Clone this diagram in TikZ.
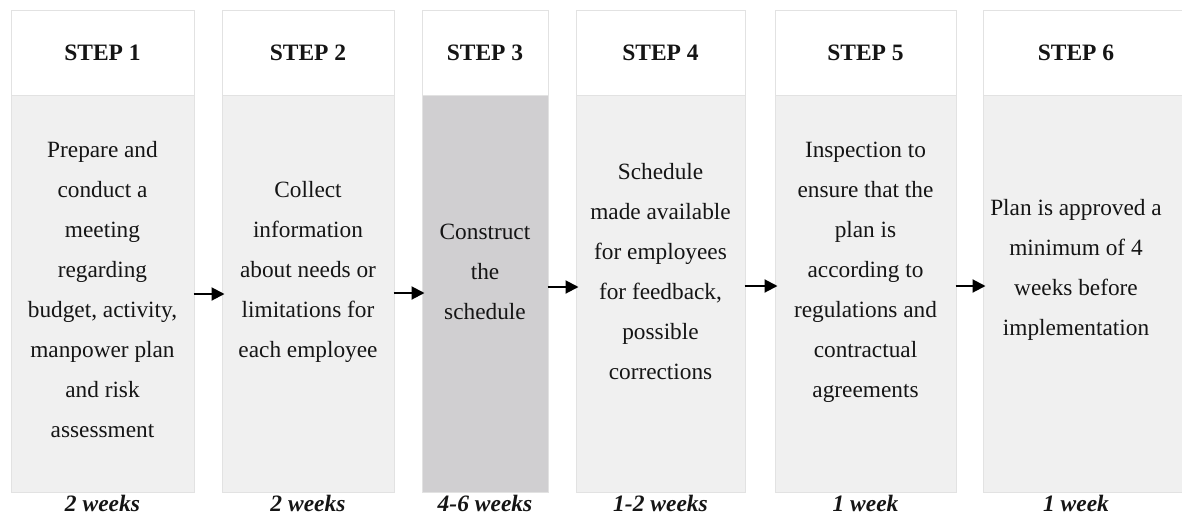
\documentclass[tikz,border=0pt]{standalone}
\usepackage{fontspec}
\setmainfont{Liberation Serif}
\usetikzlibrary{arrows.meta}
\definecolor{boxedge}{HTML}{E2E2E2}
\definecolor{bodygray}{HTML}{F0F0F0}
\definecolor{focusgray}{HTML}{D0CFD1}
\definecolor{ink}{HTML}{151515}
\begin{document}
\begin{tikzpicture}[x=1pt,y=-1pt,
  headbox/.style={draw=boxedge, fill=white, line width=1pt, inner sep=0pt,
    minimum height=85pt, text=ink, font=\fontsize{23.5}{28}\selectfont\bfseries},
  bodybox/.style={draw=boxedge, fill=bodygray, line width=1pt, inner sep=0pt,
    minimum height=397pt},
  bodytext/.style={align=center, inner sep=0pt, text=ink,
    font=\fontsize{23.3}{40}\selectfont},
  durlabel/.style={inner sep=0pt, text=ink,
    font=\fontsize{23.5}{28}\selectfont\bfseries\itshape},
  flow/.style={-{Triangle[length=13pt,width=13pt]}, line width=2pt, black,
    shorten <=-1pt, shorten >=-3pt}]
\useasboundingbox (0,0) rectangle (1182,515);
\clip (0,0) rectangle (1182,515);

% column headers
\node[headbox, minimum width=183pt] (h1) at (102.5,52.5) {STEP 1};
\node[headbox, minimum width=172pt] (h2) at (308,52.5) {STEP 2};
\node[headbox, minimum width=126pt] (h3) at (485,52.5) {STEP 3};
\node[headbox, minimum width=169pt] (h4) at (660.5,52.5) {STEP 4};
\node[headbox, minimum width=181pt] (h5) at (865.5,52.5) {STEP 5};
\node[headbox, minimum width=207pt] (h6) at (1086.5,52.5) {};
\node[text=ink, font=\fontsize{23.5}{28}\selectfont\bfseries] (h6t) at (1076,52.5) {STEP 6};

% column bodies
\node[bodybox, minimum width=183pt] (b1) at (102.5,293.5) {};
\node[bodybox, minimum width=172pt] (b2) at (308,293.5) {};
\node[bodybox, minimum width=126pt, fill=focusgray] (b3) at (485,293.5) {};
\node[bodybox, minimum width=169pt] (b4) at (660.5,293.5) {};
\node[bodybox, minimum width=181pt] (b5) at (865.5,293.5) {};
\node[bodybox, minimum width=207pt] (b6) at (1086.5,293.5) {};

% body texts
\node[bodytext] (t1) at ([yshift=3.5pt]b1.center)
  {Prepare and\\conduct a\\meeting\\regarding\\budget, activity,\\manpower plan\\and risk\\assessment};
\node[bodytext] (t2) at ([yshift=21.5pt]b2.center)
  {Collect\\information\\about needs or\\limitations for\\each employee};
\node[bodytext] (t3) at ([yshift=21.5pt]b3.center)
  {Construct\\the\\schedule};
\node[bodytext] (t4) at ([yshift=21.5pt]b4.center)
  {Schedule\\made available\\for employees\\for feedback,\\possible\\corrections};
\node[bodytext] (t5) at ([yshift=21.5pt]b5.center)
  {Inspection to\\ensure that the\\plan is\\according to\\regulations and\\contractual\\agreements};
\node[bodytext] (t6) at (1076,270)
  {Plan is approved a\\minimum of 4\\weeks before\\implementation};

% durations
\node[durlabel] (d1) at (102.5,503) {2 weeks};
\node[durlabel] (d2) at (308,503) {2 weeks};
\node[durlabel] (d3) at (485,503) {4-6 weeks};
\node[durlabel] (d4) at (660.5,503) {1-2 weeks};
\node[durlabel] (d5) at (865.5,503) {1 week};
\node[durlabel] (d6) at (1076,503) {1 week};

% flow arrows
\draw[flow] ([yshift=-0.5pt]b1.east) -- ([yshift=-0.5pt]b2.west);
\draw[flow] ([yshift=0.5pt]b2.east) -- ([yshift=0.5pt]b3.west);
\draw[flow] ([yshift=6.5pt]b3.east) -- ([yshift=6.5pt]b4.west);
\draw[flow] ([yshift=7.5pt]b4.east) -- ([yshift=7.5pt]b5.west);
\draw[flow] ([yshift=7.5pt]b5.east) -- ([yshift=7.5pt]b6.west);
\end{tikzpicture}
\end{document}
